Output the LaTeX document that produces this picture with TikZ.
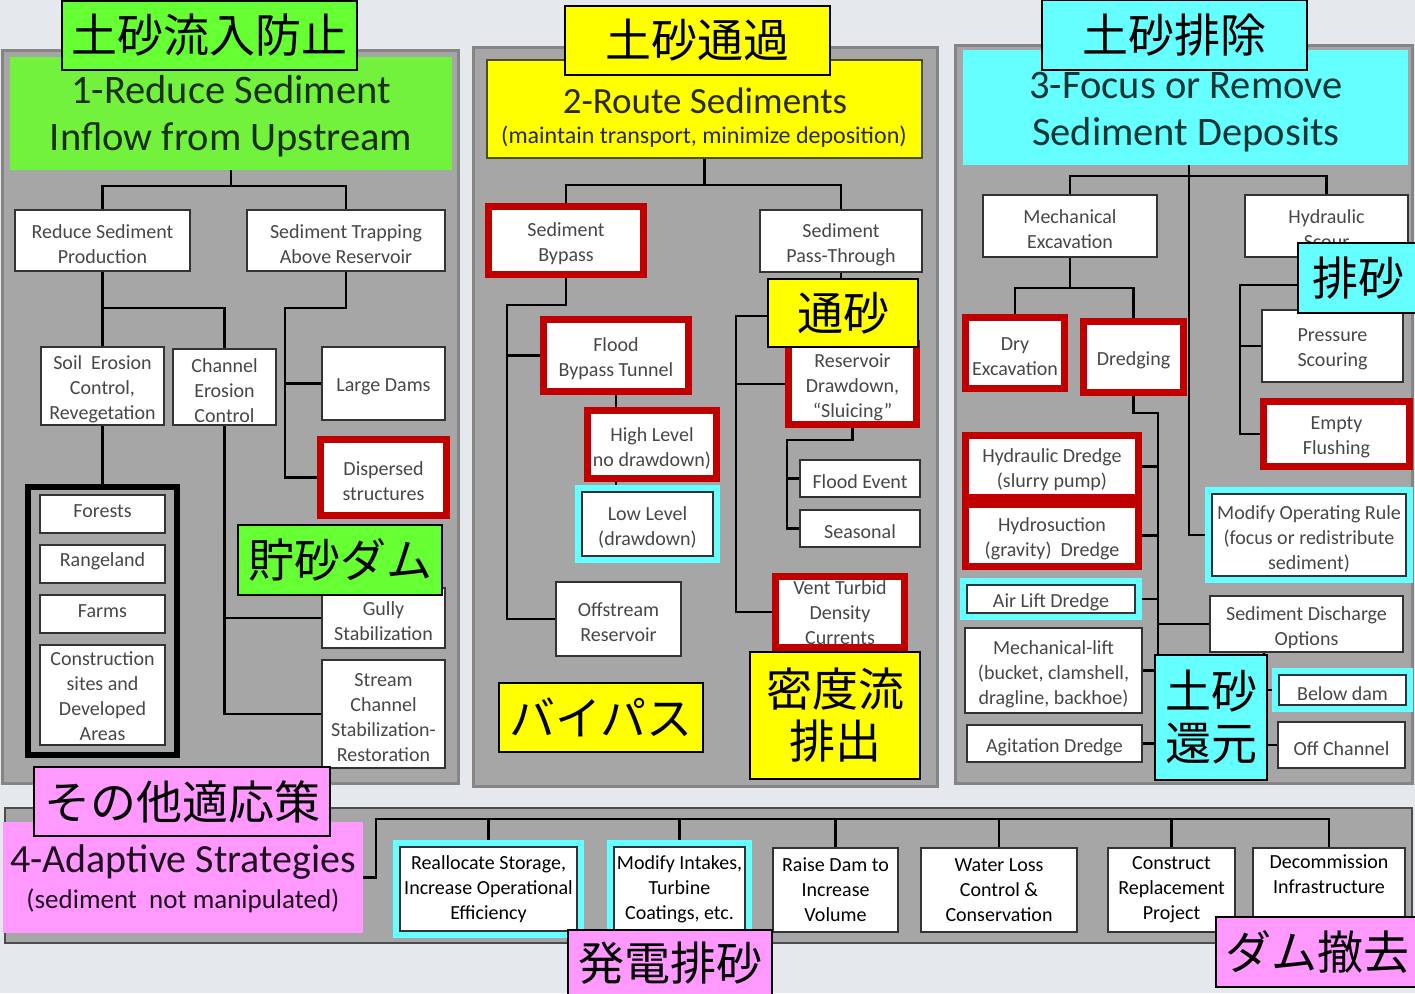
\documentclass[tikz,border=0pt]{standalone}
\usepackage{fontspec}
\setmainfont{Carlito}
\newfontfamily\jp{Noto Sans CJK JP}
\definecolor{bgc}{HTML}{E5E9EE}
\definecolor{panelc}{HTML}{A6A6A6}
\definecolor{panelb}{HTML}{858585}
\definecolor{redc}{HTML}{C00000}
\definecolor{cyanc}{HTML}{66FFFF}
\definecolor{greenc}{HTML}{66FF33}
\definecolor{greenh}{HTML}{72F23C}
\definecolor{yellowc}{HTML}{FFFF00}
\definecolor{pinkc}{HTML}{FF99FF}
\definecolor{btext}{HTML}{474747}
\definecolor{hgreen}{HTML}{1A2E10}
\definecolor{hyellow}{HTML}{2A2A05}
\definecolor{hcyan}{HTML}{0C3535}
\definecolor{hpink}{HTML}{1F0F1F}
\definecolor{olivec}{HTML}{4D4D1A}
\pgfdeclarelayer{bg}\pgfdeclarelayer{conn}\pgfsetlayers{bg,conn,main}
\newcommand\boxfont{\fontsize{20}{25}\selectfont}
\newcommand\pfont{\fontsize{20}{25}\selectfont}
\def\tsh{-3.5pt}
% plain node with text
\newcommand\bx[7]{\node[#6,minimum width={(#4)-(#2)},minimum height={(#5)-(#3)}] (#1) at ({((#2)+(#4))/2},{((#3)+(#5))/2}) {#7};}
% box node plus its text node, shifted by \tsh
\newcommand\tb[7]{\node[#6,minimum width={(#4)-(#2)},minimum height={(#5)-(#3)}] (#1) at ({((#2)+(#4))/2},{((#3)+(#5))/2}) {};
  \node[#6,draw=none,fill=none,minimum width=0pt,minimum height=0pt,yshift=\tsh] (#1t) at (#1.center) {#7};}
\newcommand\rbx[6]{\tb{#1}{(#2)+3.5}{(#3)+3.5}{(#4)-3.5}{(#5)-3.5}{redb}{#6}}
\newcommand\cbx[7]{\fill[cyanc] (#2,#3) rectangle (#4,#5);\tb{#1}{(#2)+7}{(#3)+7}{(#4)-7}{(#5)-7}{#6}{#7}}
\begin{document}
\begin{tikzpicture}[x=1pt,y=-1pt,
  plain/.style={draw=black!80,line width=2pt,fill=white,inner sep=1pt,align=center,font=\boxfont,text=btext},
  redb/.style={plain,draw=redc,line width=7pt},
  p4/.style={plain,text=black,font=\pfont},
  blkbox/.style={draw=black,line width=6pt},
  conn/.style={draw=black,line width=2.8pt},
  panel/.style={fill=panelc,draw=panelb,line width=3pt},
  hbox/.style={draw=none,inner sep=0pt},
  htext/.style={align=center,inner sep=0pt,font=\fontsize{40.5}{47}\selectfont},
  jl/.style={draw=black,line width=1.3pt,font=\jp\fontsize{46}{52}\selectfont,align=center,inner sep=0pt,text=black}]
\useasboundingbox (0,0) rectangle (1415,993);
\begin{pgfonlayer}{bg}
\fill[bgc] (0,0) rectangle (1415,993);
\draw[panel] (2,50) rectangle (458,783);
\draw[panel] (473,47) rectangle (937,786);
\draw[panel] (955,45) rectangle (1412,783);
\draw[fill=panelc,draw=black!70,line width=2.5pt] (5,808) rectangle (1412,943);
\end{pgfonlayer}

% headers
\tb{h1}{10}{57}{452}{170}{hbox,fill=greenh}{}
\node[htext,text=hgreen] (h1x) at (231,116.5) {1-Reduce Sediment\\Inflow from Upstream};
\tb{h2}{487}{60}{922}{158}{hbox,fill=yellowc,draw=olivec,line width=2.5pt}{}
\node[htext,text=hyellow,font=\fontsize{37}{40}\selectfont] (h2a) at (705,101) {2-Route Sediments};
\node[htext,text=hyellow,font=\fontsize{24}{28}\selectfont] (h2b) at (704,137) {(maintain transport, minimize deposition)};
\tb{h3}{963}{50}{1408}{165}{hbox,fill=cyanc}{}
\node[htext,text=hcyan] (h3x) at (1186,112.5) {3-Focus or Remove\\Sediment Deposits};
\tb{h4}{3}{822}{363}{933}{hbox,fill=pinkc}{}
\node[htext,text=hpink,font=\fontsize{40}{44}\selectfont] (h4a) at (183,862) {4-Adaptive Strategies};
\node[htext,text=hpink,font=\fontsize{27}{30}\selectfont] (h4b) at (183,901) {(sediment\ \ not manipulated)};

% panel 1
\tb{rsp}{15}{210}{190}{271}{plain}{Reduce Sediment\\Production}
\tb{sta}{247}{210}{445}{271}{plain}{Sediment Trapping\\Above Reservoir}
\tb{sec}{41}{347}{164}{425}{plain}{Soil\ \ Erosion\\Control,\\Revegetation}
\tb{cec}{173}{349}{276}{425}{plain}{Channel\\Erosion\\Control}
\tb{ld}{322}{347}{445}{420}{plain}{Large Dams}
\rbx{ds}{317}{436}{450}{519}{Dispersed\\structures}
\tb{gs}{322}{588}{445}{648}{plain}{Gully\\Stabilization}
\tb{scs}{322}{660}{445}{768}{plain}{Stream\\Channel\\Stabilization-\\Restoration}
\tb{blk}{28}{487}{177}{755}{blkbox}{}
\def\tsh{3pt}
\tb{fo}{40}{495}{165}{533}{plain}{Forests}
\tb{rl}{40}{545}{165}{583}{plain}{Rangeland}
\tb{fa}{40}{595}{165}{633}{plain}{Farms}
\def\tsh{-1pt}
\tb{cs}{40}{645}{165}{745}{plain}{Construction\\sites and\\Developed\\Areas}
\def\tsh{-3.5pt}

% panel 2
\rbx{sb}{485}{203}{647}{278}{Sediment\\Bypass}
\tb{spt}{760}{210}{922}{272}{plain}{Sediment\\Pass-Through}
\rbx{fbt}{540}{316}{692}{395}{Flood\\Bypass Tunnel}
\rbx{hl}{584}{407}{720}{482}{High Level\\no drawdown)}
\cbx{ll}{575}{485}{720}{563}{plain}{Low Level\\(drawdown)}
\tb{osr}{556}{582}{681}{656}{plain}{Offstream\\Reservoir}
\rbx{rdd}{785}{340}{920}{428}{Reservoir\\Drawdown,\\“Sluicing”}
\tb{fe}{800}{460}{920}{497}{plain}{Flood Event}
\tb{se}{800}{510}{920}{547}{plain}{Seasonal}
\def\tsh{-0.5pt}
\rbx{vt}{772}{573}{908}{651}{Vent Turbid\\Density\\Currents}
\def\tsh{-3.5pt}

% panel 3
\tb{me}{983}{195}{1157}{257}{plain}{Mechanical\\Excavation}
\tb{hs}{1245}{195}{1408}{257}{plain}{Hydraulic\\Scour}
\rbx{dry}{962}{314}{1068}{392}{Dry\\Excavation}
\rbx{dr}{1080}{318}{1187}{396}{Dredging}
\tb{ps}{1262}{310}{1403}{382}{plain}{Pressure\\Scouring}
\rbx{ef}{1260}{398}{1413}{470}{Empty\\Flushing}
\cbx{mor}{1205}{487}{1413}{583}{plain}{Modify Operating Rule\\(focus or redistribute\\sediment)}
\tb{sdo}{1210}{596}{1403}{652}{plain}{Sediment Discharge\\Options}
\rbx{hd}{962}{432}{1142}{501}{Hydraulic Dredge\\(slurry pump)}
\rbx{hsd}{962}{501}{1142}{570}{Hydrosuction\\(gravity)\ \ Dredge}
\cbx{ald}{960}{578}{1142}{620}{plain}{Air Lift Dredge}
\tb{ml}{965}{628}{1142}{713}{plain}{Mechanical-lift\\(bucket, clamshell,\\dragline, backhoe)}
\tb{ad}{967}{725}{1142}{762}{plain}{Agitation Dredge}
\cbx{bd}{1272}{668}{1413}{712}{plain}{Below dam}
\tb{oc}{1278}{722}{1405}{768}{plain}{Off Channel}

% panel 4
\def\tsh{0pt}
\cbx{ra}{393}{840}{584}{938}{p4}{Reallocate Storage,\\Increase Operational\\Efficiency}
\cbx{mi}{607}{840}{752}{938}{p4}{Modify Intakes,\\Turbine\\Coatings, etc.}
\tb{rd}{773}{848}{898}{932}{p4}{Raise Dam to\\Increase\\Volume}
\tb{wl}{921}{848}{1077}{932}{p4}{Water Loss\\Control \&\\Conservation}
\tb{cr}{1108}{848}{1235}{932}{p4}{Construct\\Replacement\\Project}
\tb{dc}{1253}{848}{1405}{932}{p4}{Decommission\\Infrastructure\\\strut}

% connectors
\begin{pgfonlayer}{conn}
% panel 1
\coordinate (j1) at (231,186);
\draw[conn] (h1.south) -- (j1);
\draw[conn] (rsp.north) |- (j1) -| (sta.north);
\draw[conn] (rsp.south) -- (sec.north);
\coordinate (j1b) at (102.5,308);
\draw[conn] (j1b) -| (cec.north);
\coordinate (j1c) at (285,308);
\draw[conn] (sta.south) |- (j1c) |- (ds.west);
\draw[conn] (j1c |- ld.west) -- (ld.west);
\draw[conn] (sec.south) -- (blk.north);
\draw[conn] (cec.south) |- (scs.west);
\draw[conn] (cec.south |- gs.west) -- (gs.west);
% panel 2
\coordinate (j2) at (704.5,185);
\draw[conn] (h2.south) -- (j2);
\draw[conn] (sb.north) |- (j2) -| (spt.north);
\coordinate (j2b) at (507,305);
\draw[conn] (sb.south) |- (j2b) |- (osr.west);
\draw[conn] (j2b |- fbt.west) -- (fbt.west);
\draw[conn] (fbt.south) |- (ll.west);
\draw[conn] (fbt.south |- hl.west) -- (hl.west);
\coordinate (j2c) at (736,316);
\draw[conn] (spt.south) |- (j2c) |- (vt.west);
\draw[conn] (j2c |- rdd.west) -- (rdd.west);
\coordinate (j2d) at (787,440);
\draw[conn] (rdd.south) |- (j2d) |- (se.west);
\draw[conn] (j2d |- fe.west) -- (fe.west);
% panel 3
\coordinate (c3) at (1189,165);
\draw[conn] (c3) |- (mor.west);
\coordinate (j3) at (1189,176);
\draw[conn] (me.north) |- (j3) -| (hs.north);
\coordinate (j3b) at (1070,288);
\draw[conn] (me.south) -- (j3b);
\draw[conn] (dry.north) |- (j3b) -| (dr.north);
\coordinate (j3c) at (1158,413);
\draw[conn] (dr.south) |- (j3c) |- (ad.east);
\draw[conn] (j3c |- hd.east) -- (hd.east);
\draw[conn] (j3c |- hsd.east) -- (hsd.east);
\draw[conn] (j3c |- ald.east) -- (ald.east);
\draw[conn] (j3c |- ml.east) -- (ml.east);
\draw[conn] (j3c |- sdo.west) -- (sdo.west);
\coordinate (j3d) at (1240,285);
\draw[conn] (hs.south) |- (j3d) |- (ef.west);
\draw[conn] (j3d |- ps.west) -- (ps.west);
\coordinate (j3e) at (1264,652);
\draw[conn] (j3e) |- (oc.west);
\draw[conn] (j3e |- bd.west) -- (bd.west);
% panel 4
\coordinate (t4) at (376,819);
\draw[conn] (h4.east) -| (t4) -- (t4 -| dc.north) -- (dc.north);
\foreach \n in {ra,mi,rd,wl,cr} \draw[conn] (\n.north |- t4) -- (\n.north);
\end{pgfonlayer}

% japanese labels
\bx{L1}{62}{1}{357}{70}{jl,fill=greenc}{土砂流入防止}
\bx{L2}{565}{6}{830}{75}{jl,fill=yellowc}{土砂通過}
\bx{L3}{1042}{0}{1307}{70}{jl,fill=cyanc}{土砂排除}
\bx{L4}{1298}{243}{1418}{313}{jl,fill=cyanc}{排砂}
\bx{L5}{768}{279}{918}{347}{jl,fill=yellowc}{通砂}
\bx{L6}{238}{525}{442}{595}{jl,fill=greenc}{貯砂ダム}
\bx{L7}{499}{683}{703}{752}{jl,fill=yellowc}{バイパス}
\bx{L8}{750}{652}{920}{779}{jl,fill=yellowc}{密度流\\排出}
\bx{L9}{1155}{655}{1267}{780}{jl,fill=cyanc}{土砂\\還元}
\bx{L10}{34}{767}{330}{836}{jl,fill=pinkc}{その他適応策}
\bx{L11}{568}{930}{772}{996}{jl,fill=pinkc}{発電排砂}
\bx{L12}{1216}{917}{1418}{987}{jl,fill=pinkc}{ダム撤去}
\end{tikzpicture}
\end{document}
